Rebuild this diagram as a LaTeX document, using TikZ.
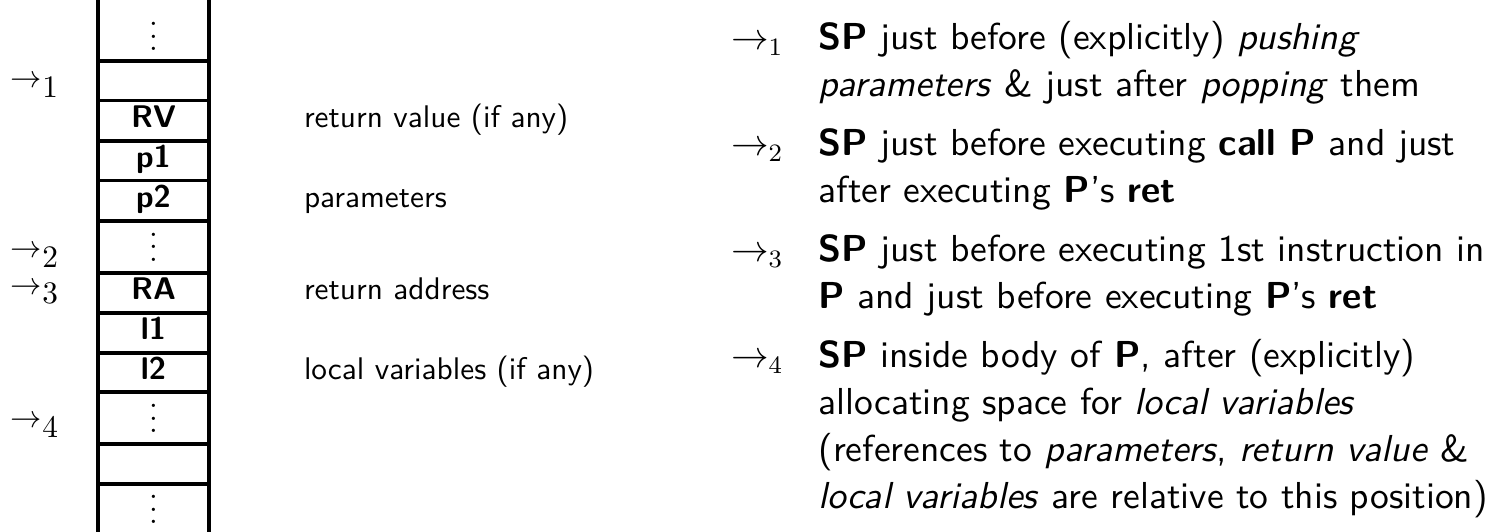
\documentclass[tikz,border=0pt]{standalone}
\usepackage{fontspec}
\newfontfamily\rsf{lmsans10-regular.otf}[BoldFont=lmsans10-bold.otf, ItalicFont=lmsans10-oblique.otf, Ligatures=TeX]
\begin{document}
\begin{tikzpicture}[x=0.3195pt,y=-0.3195pt,
  every node/.style={inner sep=0pt, outer sep=0pt},
  cell/.style={anchor=base, font=\fontsize{10}{12}\selectfont\sffamily\bfseries},
  dots/.style={anchor=base, font=\fontsize{10}{12}\selectfont},
  desc/.style={anchor=base west, font=\fontsize{10}{12}\selectfont\sffamily},
  lptr/.style={anchor=base west, font=\fontsize{10}{12}\selectfont},
  rptr/.style={anchor=base west, font=\fontsize{12}{14.5}\selectfont},
  txt/.style={anchor=base west, font=\fontsize{12}{14.5}\selectfont\rsf},
  rule/.style={line width=1.05pt}]
\useasboundingbox (0,0) rectangle (1506,532);
% stack walls
\coordinate (wl0) at (98,0);   \coordinate (wl1) at (98,532);
\coordinate (wr0) at (209,0);  \coordinate (wr1) at (209,532);
\draw[rule] (wl0) -- (wl1);
\draw[rule] (wr0) -- (wr1);
% separators
\foreach \yy in {61,100.5,141,180.5,221,273,313,353,392,444,484}
  \draw[rule] (98,\yy) -- (209,\yy);
% cells
\node[dots] (d1) at (153.5,50.9) {$\vdots$};
\node[cell] (rv) at (153.5,127.5) {RV};
\node[cell] (p1) at (153.5,168) {p1};
\node[cell] (p2) at (153.5,207.5) {p2};
\node[dots] (d2) at (153.5,261.5) {$\vdots$};
\node[cell] (ra) at (153.5,300) {RA};
\node[cell] (l1) at (153.5,340) {l1};
\node[cell] (l2) at (153.5,380) {l2};
\node[dots] (d3) at (153.5,433) {$\vdots$};
\node[dots] (d4) at (153.5,524) {$\vdots$};
% left pointers
\node[lptr] (lp1) at (11,87.8)  {$\rightarrow_{\textstyle 1}$};
\node[lptr] (lp2) at (11,257.8) {$\rightarrow_{\textstyle 2}$};
\node[lptr] (lp3) at (11,294.5) {$\rightarrow_{\textstyle 3}$};
\node[lptr] (lp4) at (11,427.8) {$\rightarrow_{\textstyle 4}$};
% descriptions
\node[desc] (drv) at (304,127.5) {return value (if any)};
\node[desc] (dpar) at (304,207.5) {parameters};
\node[desc] (dra) at (304,300) {return address};
\node[desc] (dloc) at (304,380) {local variables (if any)};
% right explanations
\node[rptr] (m1) at (731,50)  {$\rightarrow_1$};
\node[rptr] (m2) at (731,156) {$\rightarrow_2$};
\node[rptr] (m3) at (731,262) {$\rightarrow_3$};
\node[rptr] (m4) at (731,368) {$\rightarrow_4$};
\node[txt] (t1a) at (818.5,50)  {\textbf{SP} just before (explicitly) \textit{pushing}};
\node[txt] (t1b) at (818.5,97)  {\textit{parameters} \& just after \textit{popping} them};
\node[txt] (t2a) at (818.5,156) {\textbf{SP} just before executing \textbf{call P} and just};
\node[txt] (t2b) at (818.5,203) {after executing \textbf{P}'s \textbf{ret}};
\node[txt] (t3a) at (818.5,262) {\textbf{SP} just before executing 1st instruction in};
\node[txt] (t3b) at (818.5,309) {\textbf{P} and just before executing \textbf{P}'s \textbf{ret}};
\node[txt] (t4a) at (818.5,368) {\textbf{SP} inside body of \textbf{P}, after (explicitly)};
\node[txt] (t4b) at (818.5,415) {allocating space for \textit{local variables}};
\node[txt] (t4c) at (818.5,462) {(references to \textit{parameters}, \textit{return value} \&};
\node[txt] (t4d) at (818.5,509) {\textit{local variables} are relative to this position)};
\end{tikzpicture}
\end{document}
